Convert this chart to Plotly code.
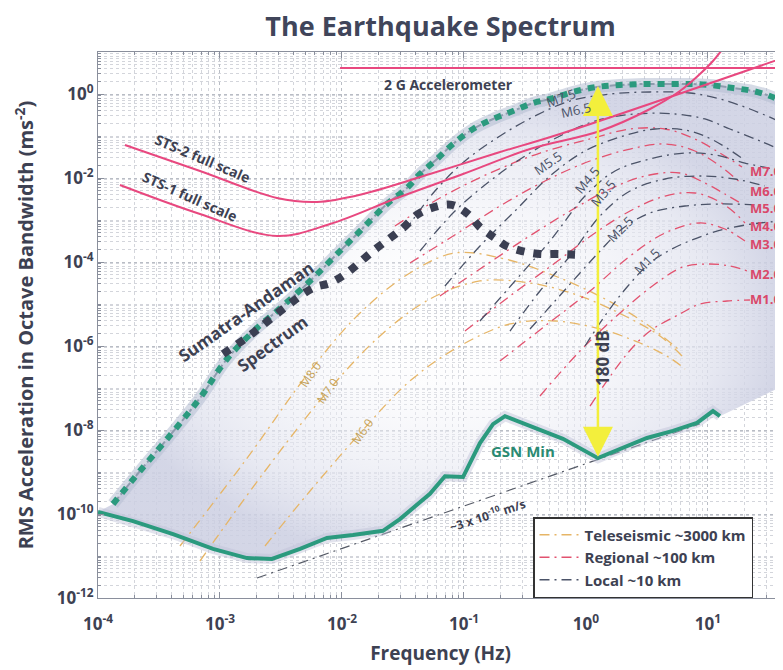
import plotly.graph_objects as go

# ---------------- data (log10 units) ----------------
# upper envelope of earthquake spectra
env_lf = [-3.877, -3.656, -3.393, -3.164, -2.943, -2.697, -2.533, -2.262, -2.016, -1.828,
          -1.631, -1.467, -1.361, -1.221, -1.090, -0.926, -0.762, -0.598, -0.434, -0.295,
          -0.107, 0.090, 0.279, 0.467, 0.664, 0.852, 1.016, 1.205, 1.369, 1.508, 1.615]
env_la = [-9.762, -8.976, -8.071, -7.238, -6.310, -5.571, -5.167, -4.452, -3.738, -3.190,
          -2.619, -2.238, -1.905, -1.548, -1.190, -0.833, -0.595, -0.405, -0.214, -0.119,
          0.048, 0.167, 0.214, 0.238, 0.238, 0.238, 0.214, 0.143, 0.071, -0.048, -0.190]

# GSN minimum noise
gsn_lf = [-4.0, -3.713, -3.385, -3.057, -2.779, -2.574, -2.344, -2.123, -1.910, -1.664,
          -1.525, -1.418, -1.279, -1.156, -1.008, -0.869, -0.762, -0.664, -0.459, -0.189,
          0.098, 0.279, 0.500, 0.713, 0.910, 1.041, 1.098]
gsn_la = [-9.95, -10.17, -10.48, -10.83, -11.05, -11.07, -10.83, -10.57, -10.50, -10.40,
          -10.12, -9.86, -9.52, -9.10, -9.12, -8.31, -7.86, -7.67, -7.90, -8.21,
          -8.67, -8.45, -8.19, -8.02, -7.83, -7.55, -7.67]

# right edge of shaded region
shade_right_lf = [1.615]
shade_right_la = [-6.95]

# Sumatra-Andaman spectrum
sum_lf = [-2.975, -2.730, -2.484, -2.238, -2.098, -1.959, -1.746, -1.500, -1.377, -1.238,
          -1.098, -0.967, -0.869, -0.746, -0.664, -0.525, -0.377, -0.221, -0.066]
sum_la = [-6.19, -5.69, -5.12, -4.62, -4.50, -4.26, -3.74, -3.19, -2.86, -2.69,
          -2.64, -2.86, -3.17, -3.43, -3.60, -3.74, -3.81, -3.81, -3.83]

# instrument clip levels
sts1_lf = [-3.820, -3.164, -2.533, -2.098, -1.549, -1.008, -0.459, 0.115, 0.525, 0.770, 0.934, 1.041, 1.139]
sts1_la = [-2.167, -2.857, -3.381, -3.095, -2.476, -1.905, -1.310, -0.881, -0.357, 0.071, 0.476, 0.786, 1.143]
sts2_lf = [-3.779, -3.164, -2.533, -2.205, -1.828, -1.279, -0.730, -0.213, 1.615]
sts2_la = [-1.214, -1.833, -2.476, -2.571, -2.381, -1.905, -1.405, -0.952, 0.857]
acc2g_lf = [-2.016, 1.615]
acc2g_la = [0.619, 0.619]

# ~3e-10 m/s velocity line
vel_lf = [-2.697, 0.934]
vel_la = [-11.524, -7.857]

# Teleseismic ~3000 km
tele_names = ["M8.0", "M7.0", "M6.0"]
tele_lf = [
    [-3.328, -2.795, -2.262, -1.852, -1.443, -1.074, -0.664, -0.254, 0.156, 0.484, 0.754],
    [-3.164, -2.631, -2.115, -1.689, -1.279, -0.869, -0.459, -0.049, 0.320, 0.607, 0.787],
    [-2.631, -2.262, -1.836, -1.443, -1.033, -0.623, -0.254, 0.115, 0.443, 0.689, 0.811],
]
tele_la = [
    [-10.762, -8.738, -6.595, -5.214, -4.262, -3.786, -3.929, -4.333, -4.881, -5.452, -6.071],
    [-11.119, -8.976, -7.071, -5.762, -4.881, -4.452, -4.500, -4.810, -5.286, -5.762, -6.238],
    [-10.762, -9.452, -8.024, -6.833, -6.000, -5.476, -5.405, -5.595, -5.929, -6.286, -6.548],
]
tele_label_lf = [-2.262, -2.115, -1.836]
tele_label_la = [-6.667, -7.071, -8.024]

# Regional ~100 km
reg_names = ["M7.0", "M6.0", "M5.0", "M4.0", "M3.0", "M2.0", "M1.0"]
reg_lf = [
    [-1.566, -1.197, -0.787, -0.377, 0.033, 0.361, 0.648, 0.893, 1.098, 1.279],
    [-1.443, -1.115, -0.705, -0.336, 0.033, 0.361, 0.648, 0.893, 1.098, 1.279],
    [-1.197, -0.869, -0.500, -0.131, 0.197, 0.484, 0.770, 0.975, 1.139, 1.279],
    [-0.992, -0.623, -0.254, 0.074, 0.361, 0.648, 0.893, 1.082, 1.221, 1.303],
    [-0.705, -0.336, 0.033, 0.361, 0.648, 0.934, 1.139, 1.303],
    [-0.377, -0.049, 0.279, 0.566, 0.795, 0.992, 1.180, 1.344],
    [0.033, 0.336, 0.525, 0.770, 0.934, 1.156, 1.344],
]
reg_la = [
    [-3.143, -2.476, -1.881, -1.405, -1.071, -0.833, -0.833, -1.071, -1.405, -1.738],
    [-4.024, -3.429, -2.667, -2.071, -1.595, -1.310, -1.190, -1.357, -1.714, -2.143],
    [-4.810, -4.167, -3.452, -2.786, -2.262, -1.952, -1.881, -2.119, -2.381, -2.619],
    [-5.643, -4.810, -4.024, -3.310, -2.786, -2.429, -2.357, -2.548, -2.833, -3.071],
    [-6.357, -5.524, -4.690, -3.857, -3.310, -3.071, -3.214, -3.500],
    [-7.190, -6.119, -5.214, -4.524, -4.119, -4.048, -4.095, -4.238],
    [-7.429, -6.190, -5.643, -5.238, -5.000, -4.929, -4.905],
]
reg_label_la = [-1.833, -2.310, -2.714, -3.143, -3.571, -4.286, -4.881]

# Local ~10 km
loc_names = ["M7.5", "M6.5", "M5.5", "M4.5", "M3.5", "M2.5", "M1.5"]
loc_lf = [
    [-1.484, -1.238, -0.992, -0.705, -0.418, -0.131, 0.197, 0.525, 0.852, 1.098, 1.344, 1.615],
    [-1.361, -1.074, -0.787, -0.500, -0.213, 0.074, 0.402, 0.730, 0.975, 1.180, 1.426, 1.615],
    [-1.156, -0.869, -0.582, -0.295, -0.008, 0.279, 0.566, 0.852, 1.057, 1.287],
    [-0.869, -0.582, -0.295, -0.008, 0.238, 0.525, 0.811, 1.057, 1.303, 1.615],
    [-0.623, -0.377, -0.131, 0.115, 0.361, 0.648, 0.934, 1.221, 1.467],
    [-0.459, -0.254, -0.049, 0.115, 0.295, 0.525, 0.811, 1.098, 1.426],
    [-0.008, 0.172, 0.344, 0.525, 0.705, 0.910, 1.139, 1.426, 1.615],
]
loc_la = [
    [-3.262, -2.310, -1.595, -1.000, -0.524, -0.167, 0.000, 0.048, 0.024, -0.119, -0.357, -0.690],
    [-3.738, -2.786, -2.071, -1.476, -1.000, -0.643, -0.476, -0.476, -0.595, -0.833, -1.119, -1.357],
    [-4.571, -3.619, -2.786, -1.952, -1.357, -1.024, -0.833, -0.881, -1.119, -1.548],
    [-5.405, -4.452, -3.500, -2.429, -1.833, -1.548, -1.405, -1.452, -1.643, -1.833],
    [-5.643, -4.690, -3.857, -2.905, -2.310, -2.024, -1.952, -2.024, -2.190],
    [-5.595, -4.929, -4.262, -3.738, -3.214, -2.833, -2.667, -2.619, -2.643],
    [-6.000, -5.214, -4.571, -4.024, -3.690, -3.429, -3.214, -3.071, -3.024],
]
loc_label_lf = [-0.205, -0.082, -0.311, 0.008, 0.139, 0.279, 0.500]
loc_label_la = [-0.095, -0.381, -1.650, -2.048, -2.357, -3.214, -3.976]
loc_label_angle = [-20, -12, -35, -50, -50, -45, -45]

x_tick_exp = [-4, -3, -2, -1, 0, 1]
y_tick_exp = [-12, -10, -8, -6, -4, -2, 0]

# 180 dB arrow (frequency, bottom, top)
arrow_lf = 0.098
arrow_la = [-8.67, 0.19]


def pw(v):
    return [10.0 ** t for t in v]


FONT = "Open Sans"
DARK = "#3d4152"
TEAL = "#2b9a7e"
PINK = "#e8487f"
TAN = "#e6b566"
RED = "#e2526f"
LOC = "#4b5368"
DASHDOT = "10px,5px,2px,5px"
OFF = 8  # page body margin of the browser

fig = go.Figure()

# shaded area between envelope and noise floor
shade_lf = env_lf + shade_right_lf + gsn_lf[::-1]
shade_la = env_la + shade_right_la + gsn_la[::-1]
fig.add_trace(go.Scatter(
    x=pw(shade_lf), y=pw(shade_la), mode="lines", fill="toself",
    line=dict(width=0),
    fillgradient=dict(type="radial",
                      colorscale=[[0, "rgba(255,255,255,0.0)"],
                                  [0.45, "rgba(240,241,247,0.5)"],
                                  [0.8, "rgba(224,226,238,0.75)"],
                                  [1, "rgba(204,207,226,0.85)"]]),
    hoverinfo="skip", showlegend=False))

# velocity line
fig.add_trace(go.Scatter(x=pw(vel_lf), y=pw(vel_la), mode="lines",
                         line=dict(color="#555a66", width=1.2, dash=DASHDOT),
                         hoverinfo="skip", showlegend=False))

# magnitude families
for i, (lf, la) in enumerate(zip(tele_lf, tele_la)):
    fig.add_trace(go.Scatter(x=pw(lf), y=pw(la), mode="lines", line_shape="spline",
                             line=dict(color=TAN, width=1.3, dash=DASHDOT),
                             name="Teleseismic ~3000 km", legendgroup="tele",
                             showlegend=(i == 0), hoverinfo="skip"))
for i, (lf, la) in enumerate(zip(reg_lf, reg_la)):
    fig.add_trace(go.Scatter(x=pw(lf), y=pw(la), mode="lines", line_shape="spline",
                             line=dict(color=RED, width=1.3, dash=DASHDOT),
                             name="Regional ~100 km", legendgroup="reg",
                             showlegend=(i == 0), hoverinfo="skip"))
for i, (lf, la) in enumerate(zip(loc_lf, loc_la)):
    fig.add_trace(go.Scatter(x=pw(lf), y=pw(la), mode="lines", line_shape="spline",
                             line=dict(color=LOC, width=1.3, dash=DASHDOT),
                             name="Local ~10 km", legendgroup="loc",
                             showlegend=(i == 0), hoverinfo="skip"))

# envelope (glow + dash-dot + teal squares)
fig.add_trace(go.Scatter(x=pw(env_lf), y=pw(env_la), mode="lines", line_shape="spline",
                         line=dict(color="rgba(180,190,210,0.55)", width=12),
                         hoverinfo="skip", showlegend=False))
fig.add_trace(go.Scatter(x=pw(env_lf), y=pw(env_la), mode="lines", line_shape="spline",
                         line=dict(color="#8e9cae", width=2, dash="dashdot"),
                         hoverinfo="skip", showlegend=False))
fig.add_trace(go.Scatter(x=pw(env_lf), y=pw(env_la), mode="lines", line_shape="spline",
                         line=dict(color=TEAL, width=6, dash="7px,7px"),
                         hoverinfo="skip", showlegend=False))

# Sumatra-Andaman
fig.add_trace(go.Scatter(x=pw(sum_lf), y=pw(sum_la), mode="lines", line_shape="spline",
                         line=dict(color="#3b3f52", width=8, dash="8px,9px"),
                         hoverinfo="skip", showlegend=False))

# GSN minimum (glow + line)
fig.add_trace(go.Scatter(x=pw(gsn_lf), y=pw(gsn_la), mode="lines",
                         line=dict(color="rgba(190,194,214,0.45)", width=10),
                         hoverinfo="skip", showlegend=False))
fig.add_trace(go.Scatter(x=pw(gsn_lf), y=pw(gsn_la), mode="lines",
                         line=dict(color=TEAL, width=4),
                         hoverinfo="skip", showlegend=False))

# instruments
for lf, la in ((sts2_lf, sts2_la), (sts1_lf, sts1_la), (acc2g_lf, acc2g_la)):
    fig.add_trace(go.Scatter(x=pw(lf), y=pw(la), mode="lines", line_shape="spline",
                             line=dict(color=PINK, width=2),
                             hoverinfo="skip", showlegend=False))

ann = []


def label(text, lf, la, size=13, color=DARK, angle=0, bold=True, **kw):
    d = dict(text=text, x=lf, y=la, xref="x", yref="y", showarrow=False,
             textangle=angle,
             font=dict(family=FONT, size=size, color=color, weight="bold" if bold else "normal"))
    d.update(kw)
    ann.append(d)


# arrow 180 dB
ann.append(dict(x=arrow_lf, y=arrow_la[1], ax=arrow_lf, ay=arrow_la[0],
                xref="x", yref="y", axref="x", ayref="y", text="",
                showarrow=True, arrowhead=2, startarrowhead=2, arrowside="end+start",
                arrowsize=2.4, startarrowsize=2.4, arrowwidth=2.5, arrowcolor="#f3ef3c"))
label("180 dB", 0.131, -6.286, size=17, angle=-90)

label("2 G Accelerometer", -1.131, 0.238, size=14)
label("STS-2 full scale", -3.139, -1.524, size=14, angle=23)
label("STS-1 full scale", -3.246, -2.452, size=14, angle=24)
label("Sumatra-Andaman", -2.787, -5.190, size=17, angle=-35)
label("Spectrum", -2.574, -5.929, size=17, angle=-36)
label("GSN Min", -0.516, -8.5, size=15, color="#2a8a72")
label("~3 x 10<sup>-10</sup> m/s", -0.811, -10.024, size=12, angle=-18, color="#3d4152")

for name, lf, la in zip(tele_names, tele_label_lf, tele_label_la):
    label(name, lf, la, size=12, color="#c4a25a", angle=-55, bold=False)
for name, lf, la, ang in zip(loc_names, loc_label_lf, loc_label_la, loc_label_angle):
    label(name, lf, la, size=13, color="#4b5368", angle=ang, bold=False)
for name, la in zip(reg_names, reg_label_la):
    ann.append(dict(text=name, x=1.0, y=la, xref="paper", yref="y", xanchor="right",
                    showarrow=False,
                    font=dict(family=FONT, size=13, color="#d9486a", weight="bold")))

axis_font = dict(family=FONT, size=17, color=DARK, weight="bold")
title_font = dict(family=FONT, size=19, color=DARK, weight="bold")

fig.update_layout(
    width=783, height=670,
    margin=dict(l=98 - OFF, r=OFF, t=52 - OFF, b=72 + OFF),
    paper_bgcolor="white", plot_bgcolor="white",
    title=dict(text="The Earthquake Spectrum", x=0.5, xref="paper", xanchor="center",
               y=1 - (27 - OFF) / 670, yref="container", yanchor="middle",
               font=dict(family=FONT, size=27, color="#40455a", weight="bold")),
    annotations=ann,
    legend=dict(x=(533 - 98) / 685, y=0, xanchor="left", yanchor="bottom",
                bgcolor="white", bordercolor="#333333", borderwidth=1.5,
                font=dict(family=FONT, size=15, color=DARK, weight="bold"),
                tracegroupgap=0, itemwidth=40),
    xaxis=dict(type="log", range=[-4, 1.615], automargin=False,
               tickmode="array", tickvals=pw(x_tick_exp),
               ticktext=["10<sup>%d</sup>" % e for e in x_tick_exp],
               tickfont=axis_font, ticks="inside", ticklen=6, tickcolor="#8a8f9c",
               ticklabelstandoff=11,
               showline=True, linecolor="#8a8f9c", linewidth=1, mirror="allticks",
               showgrid=True, gridcolor="#b9bdc5", griddash="dot", zeroline=False,
               minor=dict(tickmode="linear", dtick="D1", ticks="inside", ticklen=3,
                          tickcolor="#8a8f9c", showgrid=True, gridcolor="#d3d5db",
                          griddash="dot"),
               title=dict(text="Frequency (Hz)", font=title_font, standoff=12)),
    yaxis=dict(type="log", range=[-12, 1], automargin=False,
               tickmode="array", tickvals=pw(y_tick_exp),
               ticktext=["10<sup>%d</sup>" % e for e in y_tick_exp],
               tickfont=axis_font, ticks="inside", ticklen=6, tickcolor="#8a8f9c",
               showline=True, linecolor="#8a8f9c", linewidth=1, mirror=False,
               showgrid=True, gridcolor="#b9bdc5", griddash="dot", zeroline=False,
               minor=dict(tickmode="linear", dtick="D1", ticks="inside", ticklen=3,
                          tickcolor="#8a8f9c", showgrid=True, gridcolor="#d3d5db",
                          griddash="dot"),
               title=dict(text="RMS Acceleration in Octave Bandwidth (ms<sup>-2</sup>)",
                          font=dict(family=FONT, size=20, color=DARK, weight="bold"),
                          standoff=17)),
)

fig.write_html("out.html")
